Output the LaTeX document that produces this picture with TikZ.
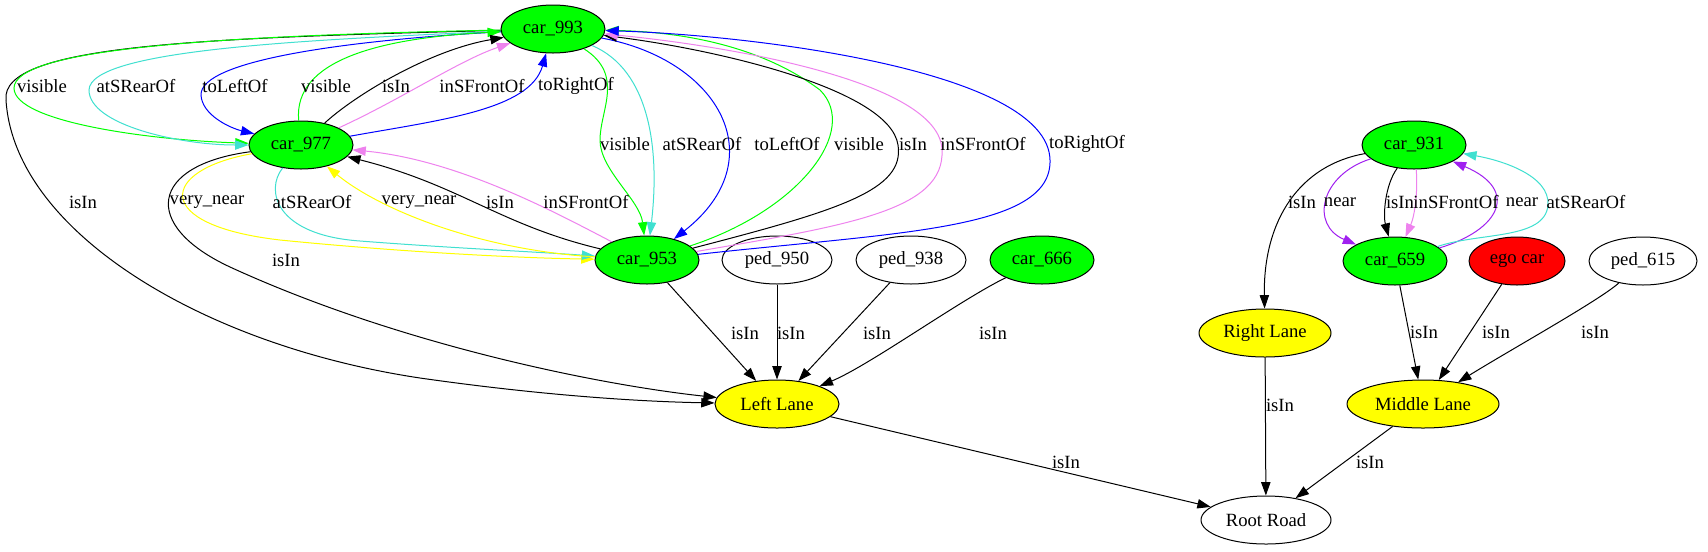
\documentclass[tikz,border=0pt]{standalone}
\usepackage{fontspec}
\setmainfont{Liberation Serif}
\usetikzlibrary{shapes.geometric,arrows.meta}
\definecolor{gvgreen}{HTML}{00FF00}
\definecolor{gvturq}{HTML}{40E0D0}
\definecolor{gvblue}{HTML}{0000FF}
\definecolor{gvviolet}{HTML}{EE82EE}
\definecolor{gvyellow}{HTML}{FFFF00}
\definecolor{gvpurple}{HTML}{A020F0}
\definecolor{gvred}{HTML}{FF0000}
\begin{document}
\begin{tikzpicture}[x=0.75pt,y=-0.75pt,
  nd/.style={ellipse, draw=black, line width=0.75pt, inner sep=0pt, minimum height=36pt, minimum width=78pt, font=\fontsize{14pt}{16pt}\selectfont},
  car/.style={nd, fill=gvgreen},
  lane/.style={nd, fill=gvyellow},
  e/.style={line width=0.75pt, -{Triangle[length=10pt,width=7pt]}},
  lbl/.style={inner sep=0pt, font=\fontsize{14pt}{16pt}\selectfont}]
\fill[white] (0,0) rectangle (1708,551);
\useasboundingbox (0,0) rectangle (1708,551);
% nodes
\node[car] (c993) at (553,29) {car\_993};
\node[car] (c977) at (301,145) {car\_977};
\node[car] (c953) at (647,260) {car\_953};
\node[nd, minimum width=82.5pt] (p950) at (777,260) {ped\_950};
\node[nd, minimum width=82.5pt] (p938) at (911,260) {ped\_938};
\node[car] (c666) at (1042,260) {car\_666};
\node[lane, minimum width=93pt] (LL) at (777,404) {Left Lane};
\node[nd, minimum width=97.5pt] (RR) at (1266,520) {Root Road};
\node[lane, minimum width=114pt] (ML) at (1423,404) {Middle Lane};
\node[lane, minimum width=99pt] (RL) at (1265,333) {Right Lane};
\node[car] (c931) at (1414,145) {car\_931};
\node[car] (c659) at (1395,261) {car\_659};
\node[nd, fill=gvred, minimum width=72pt] (ego) at (1517,261) {ego car};
\node[nd, minimum width=81pt] (p615) at (1643,261) {ped\_615};
% car_993 -> Left Lane
\draw[e] (c993) .. controls (200,38) and (0,45) .. (6,100) .. controls (14,230) and (200,345) .. (420,378) .. controls (560,398) and (660,402) .. (LL);
% car_993 -> car_977
\draw[e, gvgreen] (c993) .. controls (200,36) and (15,50) .. (14,88) .. controls (14,122) and (150,140) .. (c977);
\draw[e, gvturq] (c993) .. controls (300,40) and (90,50) .. (89,90) .. controls (89,125) and (180,145) .. (c977);
\draw[e, gvblue] (c993) .. controls (350,40) and (200,60) .. (201,95) .. controls (202,115) and (230,128) .. (c977);
% car_977 -> car_993
\draw[e, gvgreen] (c977) .. controls (293,60) and (380,38) .. (c993);
\draw[e] (c977) .. controls (355,95) and (430,50) .. (c993);
\draw[e, gvviolet] (c977) .. controls (400,100) and (460,60) .. (c993);
\draw[e, gvblue] (c977) .. controls (440,120) and (530,110) .. (c993);
% car_993 -> car_953
\draw[e, gvgreen] (c993) .. controls (625,75) and (600,110) .. (600,140) .. controls (600,170) and (640,200) .. (c953);
\draw[e, gvturq] (c993) .. controls (650,70) and (660,150) .. (c953);
\draw[e, gvblue] (c993) .. controls (720,60) and (775,160) .. (c953);
% car_953 -> car_993
\draw[e, gvgreen] (c953) .. controls (800,210) and (860,130) .. (820,90) .. controls (760,45) and (680,32) .. (c993);
\draw[e] (c953) .. controls (840,210) and (905,190) .. (898,145) .. controls (890,90) and (720,50) .. (c993);
\draw[e, gvviolet] (c953) .. controls (850,225) and (945,210) .. (942,150) .. controls (940,80) and (720,45) .. (c993);
\draw[e, gvblue] (c953) .. controls (900,232) and (1052,230) .. (1050,160) .. controls (1048,70) and (750,35) .. (c993);
% car_977 <-> car_953
\draw[e, gvyellow] (c977) .. controls (160,170) and (150,225) .. (280,240) .. controls (400,252) and (520,258) .. (c953);
\draw[e, gvturq] (c977) .. controls (265,190) and (275,235) .. (360,241) .. controls (450,248) and (540,252) .. (c953);
\draw[e, gvyellow] (c953) .. controls (480,250) and (380,210) .. (c977);
\draw[e] (c953) .. controls (500,225) and (460,185) .. (c977);
\draw[e, gvviolet] (c953) .. controls (560,215) and (460,160) .. (c977);
% car_977 -> Left Lane
\draw[e] (c977) .. controls (150,165) and (140,225) .. (230,267) .. controls (400,345) and (600,385) .. (LL);
% into Left Lane
\draw[e] (c953) -- (LL);
\draw[e] (p950) -- (LL);
\draw[e] (p938) -- (LL);
\draw[e] (c666) .. controls (960,300) and (870,365) .. (LL);
\draw[e] (LL) -- (RR);
% right cluster
\draw[e] (c931) .. controls (1300,165) and (1263,220) .. (RL);
\draw[e, gvpurple] (c931) .. controls (1320,175) and (1310,225) .. (c659);
\draw[e] (c931) .. controls (1385,185) and (1383,215) .. (c659);
\draw[e, gvviolet] (c931) .. controls (1418,190) and (1415,215) .. (c659);
\draw[e, gvpurple] (c659) .. controls (1500,230) and (1520,190) .. (c931);
\draw[e, gvturq] (c659) .. controls (1480,232) and (1545,240) .. (1548,205) .. controls (1550,175) and (1500,160) .. (c931);
\draw[e] (c659) -- (ML);
\draw[e] (ego) -- (ML);
\draw[e] (p615) .. controls (1600,300) and (1510,350) .. (ML);
\draw[e] (RL) -- (RR);
\draw[e] (ML) -- (RR);
% labels
\node[lbl] (l1) at (42,86) {visible};
\node[lbl] (l2) at (136,86) {atSRearOf};
\node[lbl] (l3) at (235,86) {toLeftOf};
\node[lbl] (l4) at (326,86) {visible};
\node[lbl] (l5) at (396,86) {isIn};
\node[lbl] (l6) at (482,86) {inSFrontOf};
\node[lbl] (l7) at (576,86) {toRightOf};
\node[lbl] (l8) at (625,144) {visible};
\node[lbl] (l9) at (702,144) {atSRearOf};
\node[lbl] (l10) at (787,144) {toLeftOf};
\node[lbl] (l11) at (859,144) {visible};
\node[lbl] (l12) at (913,144) {isIn};
\node[lbl] (l13) at (983,144) {inSFrontOf};
\node[lbl] (l14) at (1087,144) {toRightOf};
\node[lbl] (l15) at (83,202) {isIn};
\node[lbl] (l16) at (207,202) {very\_near};
\node[lbl] (l17) at (312,202) {atSRearOf};
\node[lbl] (l18) at (419,202) {very\_near};
\node[lbl] (l19) at (500,202) {isIn};
\node[lbl] (l20) at (586,202) {inSFrontOf};
\node[lbl] (l21) at (286,260) {isIn};
\node[lbl] (l22) at (745,333) {isIn};
\node[lbl] (l23) at (791,333) {isIn};
\node[lbl] (l24) at (877,333) {isIn};
\node[lbl] (l25) at (993,333) {isIn};
\node[lbl] (l26) at (1066,462) {isIn};
\node[lbl] (l27) at (1302,202) {isIn};
\node[lbl] (l28) at (1340,202) {near};
\node[lbl] (l29) at (1400,202) {isIn};
\node[lbl] (l30) at (1456,202) {inSFrontOf};
\node[lbl] (l31) at (1522,202) {near};
\node[lbl] (l32) at (1586,202) {atSRearOf};
\node[lbl] (l33) at (1424,332) {isIn};
\node[lbl] (l34) at (1496,332) {isIn};
\node[lbl] (l35) at (1595,332) {isIn};
\node[lbl] (l36) at (1280,405) {isIn};
\node[lbl] (l37) at (1370,462) {isIn};
\end{tikzpicture}
\end{document}
